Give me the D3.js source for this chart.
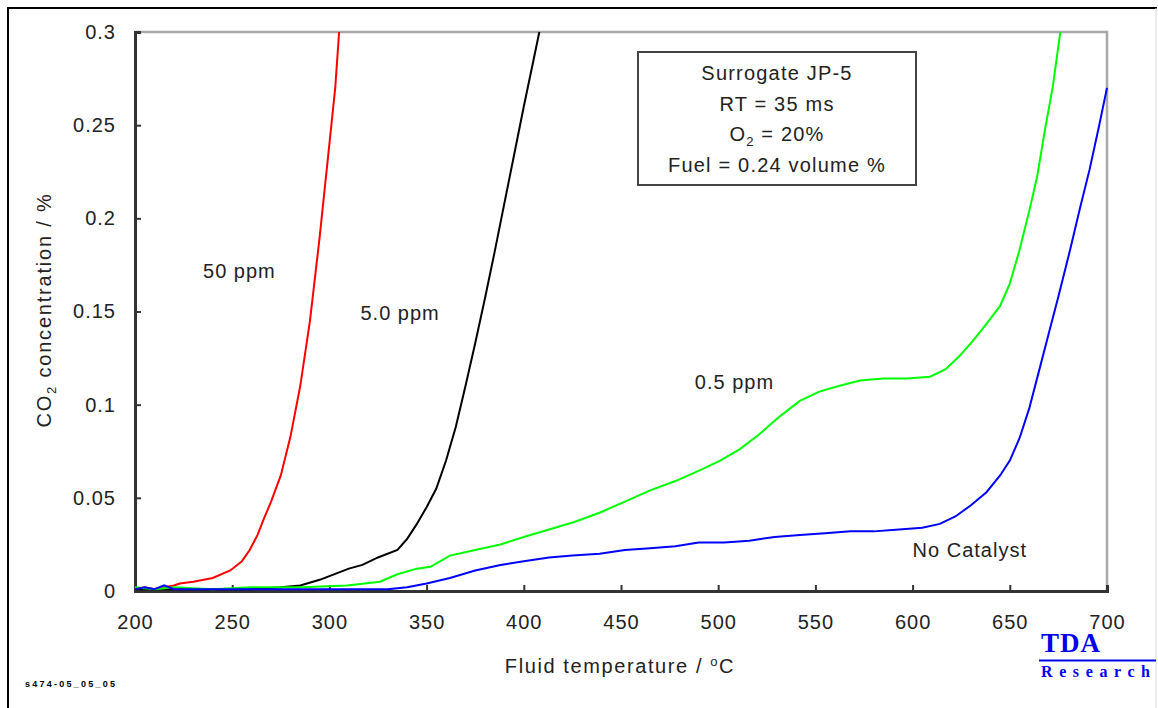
<!DOCTYPE html>
<html>
<head>
<meta charset="utf-8">
<script src="https://cdn.jsdelivr.net/npm/d3@7"></script>
<style>
  body { margin: 0; background: #fff; }
  svg { display: block; font-family: 'Liberation Sans', Arial, sans-serif; }
</style>
</head>
<body>
<svg id="chart" width="1158" height="708"></svg>
<script>
// temperature (°C) / CO2 (%) pairs
const catalyst50 = [[200,0.001],[205,0.002],[210,0.001],[215,0.002],[220,0.003],[223,0.004],[230,0.005],[240,0.007],[249,0.011],[255,0.016],[259,0.022],[263,0.030],[266,0.038],[270,0.048],[275,0.062],[280,0.083],[285,0.110],[290,0.145],[295,0.190],[300,0.240],[303,0.270],[305,0.300]];
const catalyst5 = [[200,0.001],[220,0.001],[240,0.001],[260,0.001],[275,0.002],[285,0.003],[295,0.006],[300,0.008],[310,0.012],[317,0.014],[325,0.018],[335,0.022],[340,0.028],[345,0.036],[350,0.045],[355,0.055],[360,0.070],[365,0.088],[370,0.110],[375,0.133],[380,0.157],[385,0.182],[390,0.208],[395,0.234],[400,0.260],[405,0.285],[408,0.300]];
const catalyst05 = [[200,0.002],[210,0.001],[220,0.002],[240,0.001],[260,0.002],[286,0.002],[309,0.003],[326,0.005],[335,0.009],[345,0.012],[352,0.013],[362,0.019],[375,0.022],[388,0.025],[400,0.029],[413,0.033],[426,0.037],[439,0.042],[452,0.048],[465,0.054],[478,0.059],[491,0.065],[501,0.070],[511,0.076],[521,0.084],[532,0.094],[542,0.102],[552,0.107],[562,0.110],[573,0.113],[585,0.114],[597,0.114],[609,0.115],[617,0.119],[624,0.126],[630,0.133],[637,0.142],[645,0.153],[650,0.165],[655,0.183],[660,0.204],[664,0.222],[668,0.247],[672,0.270],[676,0.300]];
const noCatalyst = [[200,0.001],[205,0.002],[210,0.001],[215,0.003],[220,0.001],[240,0.001],[260,0.001],[280,0.001],[300,0.001],[320,0.001],[330,0.001],[340,0.002],[350,0.004],[362,0.007],[375,0.011],[388,0.014],[400,0.016],[413,0.018],[425,0.019],[439,0.020],[452,0.022],[465,0.023],[478,0.024],[490,0.026],[503,0.026],[516,0.027],[529,0.029],[542,0.030],[555,0.031],[568,0.032],[580,0.032],[593,0.033],[605,0.034],[614,0.036],[622,0.040],[630,0.046],[638,0.053],[645,0.062],[650,0.070],[655,0.082],[660,0.098],[665,0.118],[670,0.138],[675,0.158],[681,0.183],[686,0.205],[691,0.226],[696,0.250],[700,0.270]];

const seriesNames = ["50 ppm", "5.0 ppm", "0.5 ppm", "No Catalyst"];
const seriesColors = ["#ff0000", "#000000", "#00ff00", "#0000ff"];
// label anchor in data units (temperature, CO2)
const labelAt = [[235,0.172],[316,0.149],[488,0.112],[600,0.022]];

const xTicks = [200,250,300,350,400,450,500,550,600,650,700];
const yTicks = [0,0.05,0.1,0.15,0.2,0.25,0.3];
const yTickLabels = ["0","0.05","0.1","0.15","0.2","0.25","0.3"];
const boxLines = ["Surrogate JP-5", "RT = 35 ms", "O2 = 20%", "Fuel = 0.24 volume %"];

const plot = { left: 135, right: 1107, top: 32, bottom: 591 };
const fontSize = 20;
const ink = "#222";

const svg = d3.select("#chart");

// outer frame
svg.append("line").attr("x1", 7).attr("y1", 8).attr("x2", 1157).attr("y2", 8)
  .attr("stroke", "#000").attr("stroke-width", 2);
svg.append("line").attr("x1", 8).attr("y1", 7).attr("x2", 8).attr("y2", 708)
  .attr("stroke", "#000").attr("stroke-width", 2);
svg.append("line").attr("x1", 1156).attr("y1", 8).attr("x2", 1156).attr("y2", 708)
  .attr("stroke", "#d8d8d8").attr("stroke-width", 1);

const x = d3.scaleLinear().domain([200, 700]).range([plot.left, plot.right]);
const y = d3.scaleLinear().domain([0, 0.3]).range([plot.bottom, plot.top]);

// top and right border of the plot (grey)
svg.append("path")
  .attr("d", `M${plot.left},${plot.top}H${plot.right}V${plot.bottom}`)
  .attr("fill", "none").attr("stroke", "#a8a8a8").attr("stroke-width", 2.5);

const xAxis = svg.append("g")
  .attr("transform", `translate(0,${plot.bottom})`)
  .call(d3.axisBottom(x).tickValues(xTicks).tickSize(-6).tickPadding(24).tickFormat(d3.format("d")));
const yAxis = svg.append("g")
  .attr("transform", `translate(${plot.left},0)`)
  .call(d3.axisLeft(y).tickValues(yTicks).tickSize(-6).tickPadding(19)
    .tickFormat((d, i) => yTickLabels[i]));

[xAxis, yAxis].forEach(ax => {
  ax.select(".domain").attr("stroke", "#333").attr("stroke-width", 3);
  ax.selectAll(".tick line").attr("stroke", "#333").attr("stroke-width", 2);
  ax.selectAll(".tick text")
    .attr("font-family", "'Liberation Sans', Arial, sans-serif")
    .attr("font-size", fontSize).attr("letter-spacing", 1).attr("fill", ink);
});

// curves
const line = d3.line().x(d => x(d[0])).y(d => y(d[1]));
[catalyst50, catalyst5, catalyst05, noCatalyst].forEach((s, i) => {
  svg.append("path")
    .datum(s)
    .attr("d", line)
    .attr("fill", "none")
    .attr("stroke", seriesColors[i])
    .attr("stroke-width", 2);
});

// series labels
svg.append("g").selectAll("text")
  .data(seriesNames)
  .join("text")
  .attr("x", (d, i) => x(labelAt[i][0]))
  .attr("y", (d, i) => y(labelAt[i][1]))
  .attr("dy", "0.35em")
  .attr("font-size", fontSize).attr("letter-spacing", 1).attr("fill", ink)
  .text(d => d);

// info box
const box = svg.append("g");
box.append("rect")
  .attr("x", 638).attr("y", 52).attr("width", 278).attr("height", 133)
  .attr("fill", "#fff").attr("stroke", "#444").attr("stroke-width", 2);
box.selectAll("text")
  .data(boxLines)
  .join("text")
  .attr("x", 777)
  .attr("y", (d, i) => 73 + i * 30.5)
  .attr("dy", "0.35em")
  .attr("text-anchor", "middle")
  .attr("font-size", fontSize).attr("letter-spacing", 1.2).attr("fill", ink)
  .each(function(d) {
    const t = d3.select(this);
    if (d.startsWith("O2")) {
      t.append("tspan").text("O");
      t.append("tspan").attr("font-size", 13).attr("dy", 5).text("2");
      t.append("tspan").attr("dy", -5).text(" = 20%");
    } else {
      t.text(d);
    }
  });

// axis titles
const xTitle = svg.append("text")
  .attr("x", 620).attr("y", 673)
  .attr("text-anchor", "middle")
  .attr("font-size", fontSize).attr("letter-spacing", 1.6).attr("fill", ink);
xTitle.append("tspan").text("Fluid temperature / ");
xTitle.append("tspan").attr("font-size", 13).attr("dy", -7).text("o");
xTitle.append("tspan").attr("dy", 7).text("C");

const yTitle = svg.append("text")
  .attr("transform", "translate(51,310) rotate(-90)")
  .attr("text-anchor", "middle")
  .attr("font-size", fontSize).attr("letter-spacing", 1.8).attr("fill", ink);
yTitle.append("tspan").text("CO");
yTitle.append("tspan").attr("font-size", 13).attr("dy", 5).text("2");
yTitle.append("tspan").attr("dy", -5).text(" concentration / %");

// logo
svg.append("text")
  .attr("x", 1041).attr("y", 652)
  .attr("font-family", "'Liberation Serif', 'Times New Roman', serif")
  .attr("font-weight", "bold").attr("font-size", 27).attr("letter-spacing", 1)
  .attr("fill", "#0000ee").text("TDA");
svg.append("line")
  .attr("x1", 1039).attr("x2", 1156).attr("y1", 660.5).attr("y2", 660.5)
  .attr("stroke", "#0000ee").attr("stroke-width", 2);
svg.append("text")
  .attr("x", 1041).attr("y", 677)
  .attr("font-family", "'Liberation Serif', 'Times New Roman', serif")
  .attr("font-weight", "bold").attr("font-size", 16)
  .attr("textLength", 109).attr("lengthAdjust", "spacing")
  .attr("fill", "#0000ee").text("Research");

// file tag
svg.append("text")
  .attr("x", 25).attr("y", 687)
  .attr("font-weight", "bold").attr("font-size", 9)
  .attr("textLength", 90).attr("lengthAdjust", "spacing")
  .attr("fill", "#000").text("s474-05_05_05");
</script>
</body>
</html>
